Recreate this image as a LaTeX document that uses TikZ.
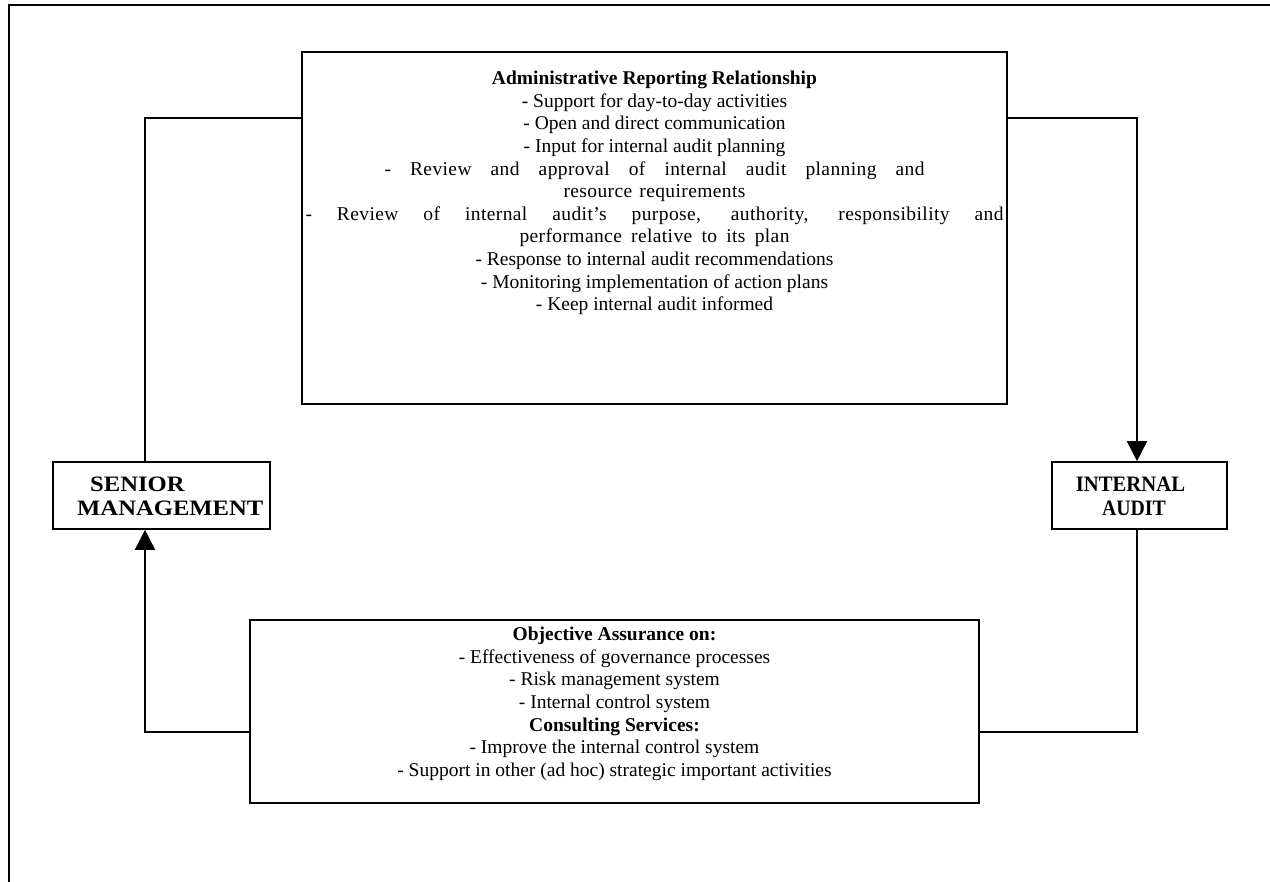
\documentclass[tikz,border=0pt]{standalone}
\usepackage{fontspec}
\setmainfont{Liberation Serif}
\usetikzlibrary{arrows.meta}
\newcommand{\sline}[2]{\makebox[#1pt][s]{\addfontfeature{LetterSpace=2}#2}}
\begin{document}
\begin{tikzpicture}[x=1pt,y=-1pt,
  box/.style={draw,line width=1.6pt,rectangle,inner sep=0pt},
  txt/.style={inner sep=0pt,align=center,font=\fontsize{19.5}{22.6}\selectfont},
  lbl/.style={inner sep=0pt,font=\fontsize{22}{23}\selectfont\bfseries},
  conn/.style={line width=1.6pt},
  arr/.style={conn,-{Triangle[width=20pt,length=20pt]}}]
\useasboundingbox (0,0) rectangle (1270,882);
\draw[line width=2.6pt] (9,882) -- (9,5) -- (1270,5);
% boxes
\node[box,minimum width=705pt,minimum height=352pt] (top) at (654.5,228) {};
\node[box,minimum width=729pt,minimum height=183pt] (bot) at (614.5,711.5) {};
\node[box,minimum width=217pt,minimum height=67pt] (sm) at (161.5,495.5) {};
\node[box,minimum width=175pt,minimum height=67pt] (ia) at (1139.5,495.5) {};
% texts
\node[txt,anchor=north] (toptxt) at (654.5,71) {\textbf{Administrative Reporting Relationship}\\
- Support for day-to-day activities\\
- Open and direct communication\\
- Input for internal audit planning\\
\sline{540}{- Review and approval of internal audit planning and}\\
\sline{182}{resource requirements}\\
\sline{698}{- Review of internal audit’s purpose, authority, responsibility and}\\
\sline{270}{performance relative to its plan}\\
- Response to internal audit recommendations\\
- Monitoring implementation of action plans\\
- Keep internal audit informed};
\node[txt,anchor=north] (bottxt) at (614.5,627) {\textbf{Objective Assurance on:}\\
- Effectiveness of governance processes\\
- Risk management system\\
- Internal control system\\
\textbf{Consulting Services:}\\
- Improve the internal control system\\
- Support in other (ad hoc) strategic important activities};
\node[lbl,anchor=base west] (smtxt1) at (90,492) {\scalebox{1.12}[1]{SENIOR}};
\node[lbl,anchor=base west] (smtxt2) at (77,515) {\scalebox{1.12}[1]{MANAGEMENT}};
\node[lbl,anchor=base] (iatxt1) at (1130.5,492) {\scalebox{0.94}[1]{INTERNAL}};
\node[lbl,anchor=base] (iatxt2) at (1134,515) {\scalebox{0.9}[1]{AUDIT}};
% connectors
\coordinate (lx) at (145,0);
\coordinate (rx) at (1137,0);
\coordinate (ty) at (0,118);
\coordinate (by) at (0,732);
\draw[conn] (sm.north -| lx) -- (lx |- ty) -- (top.west |- ty);
\draw[arr] (top.east |- ty) -- (rx |- ty) -- (rx |- ia.north);
\draw[conn] (ia.south -| rx) -- (rx |- by) -- (bot.east |- by);
\draw[arr] (bot.west |- by) -- (lx |- by) -- (lx |- sm.south);
\end{tikzpicture}
\end{document}
